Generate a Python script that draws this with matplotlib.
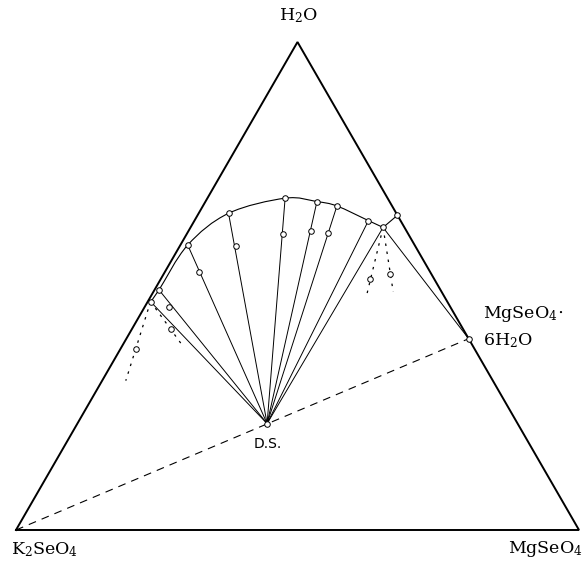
import numpy as np
import matplotlib.pyplot as plt
from matplotlib.path import Path
from matplotlib.patches import PathPatch

plt.rcParams['font.family'] = 'DejaVu Serif'
plt.rcParams['mathtext.fontset'] = 'dejavuserif'

# compositions in weight-% (MgSeO4, H2O); K2SeO4 is the rest
# solubility curve, left edge -> right edge
curve_mg = [0.5, 0.8, 1.3, 5.3, 13.8, 19.8, 23.8, 30.9, 34.2, 35.5]
curve_h2o = [46.8, 49.2, 58.4, 64.9, 68.0, 67.3, 66.4, 63.4, 62.0, 64.5]

# solutions tied to the double salt
ds_from = [0, 1, 2, 3, 4, 5, 6, 7, 8]

# wet residues on those tie lines
res_mg = [4.4, 6.0, 9.9, 17.0, 21.7, 25.1]
res_h2o = [45.6, 52.9, 58.2, 60.7, 61.3, 60.8]

# double salt and hexahydrate
ds_mg, ds_h2o = 33.7, 21.8
hexa_mg, hexa_h2o = 60.8, 39.2

# dotted tie lines: start on curve, residue, end
dot_from = [0, 0, 8, 8]
dot_res_mg = [2.9, 7.0, 37.2, 40.2]
dot_res_h2o = [37.0, 41.1, 51.4, 52.5]
dot_end_mg = [4.2, 10.9, 38.2, 42.6]
dot_end_h2o = [30.6, 37.6, 48.2, 48.8]

S3 = np.sqrt(3) / 2


def tern(mg, w):
    mg = np.asarray(mg, float)
    w = np.asarray(w, float)
    return mg + w / 2, w * S3


fig = plt.figure(figsize=(5.83, 5.62), dpi=100)
ax = fig.add_axes([0, 0, 1, 1])
ax.set_xlim(-2.842, 100.71)
ax.set_ylim(-5.68, 94.06)
ax.axis('off')

# triangle
tx, ty = tern([0, 100, 0, 0], [0, 0, 100, 0])
ax.plot(tx, ty, color='k', lw=1.4, solid_joinstyle='miter')

cx, cy = tern(curve_mg, curve_h2o)
dsx, dsy = tern(ds_mg, ds_h2o)
hx, hy = tern(hexa_mg, hexa_h2o)

# smooth solubility curve up to the invariant point, straight after it
pts = np.column_stack([cx[:9], cy[:9]])
ext = np.vstack([pts[0], pts, pts[-1]])
verts = [pts[0]]
codes = [Path.MOVETO]
for i in range(1, len(ext) - 2):
    p0, p1, p2, p3 = ext[i - 1], ext[i], ext[i + 1], ext[i + 2]
    verts += [p1 + (p2 - p0) / 6, p2 - (p3 - p1) / 6, p2]
    codes += [Path.CURVE4] * 3
verts.append([cx[9], cy[9]])
codes.append(Path.LINETO)
ax.add_patch(PathPatch(Path(verts, codes), fill=False, lw=0.8, color='k'))

# tie lines to the double salt
for i in ds_from:
    ax.plot([cx[i], dsx], [cy[i], dsy], color='k', lw=0.7)

# tie line to the hexahydrate
ax.plot([cx[8], hx], [cy[8], hy], color='k', lw=0.7)

# K2SeO4 - hexahydrate join
ax.plot([0, hx], [0, hy], color='k', lw=0.8, dashes=(7, 5.5))

# dotted tie lines
ex, ey = tern(dot_end_mg, dot_end_h2o)
for i, j in enumerate(dot_from):
    ax.plot([cx[j], ex[i]], [cy[j], ey[i]], color='k', lw=0.9, dashes=(2, 4.5))

mk = dict(marker='o', ms=4.0, mfc='white', mec='k', mew=0.7, ls='none', zorder=5)
ax.plot(cx, cy, **mk)
rx, ry = tern(res_mg, res_h2o)
ax.plot(rx, ry, **mk)
drx, dry = tern(dot_res_mg, dot_res_h2o)
ax.plot(drx, dry, **mk)
ax.plot([dsx, hx], [dsy, hy], **mk)

fs = 12.5
ax.text(50.1, 91.2, r'H$_2$O', ha='center', va='center', fontsize=fs)
ax.text(-0.8, -3.4, r'K$_2$SeO$_4$', ha='left', va='center', fontsize=fs)
ax.text(100.6, -3.4, r'MgSeO$_4$', ha='right', va='center', fontsize=fs)
ax.text(82.9, 38.3, r'MgSeO$_4\!\cdot$', ha='left', va='center', fontsize=fs)
ax.text(82.9, 33.6, r'6H$_2$O', ha='left', va='center', fontsize=fs)
ax.text(44.8, 15.3, 'D.S.', ha='center', va='center', fontsize=10,
        family='DejaVu Sans')

fig.savefig('out.png', dpi=100)
